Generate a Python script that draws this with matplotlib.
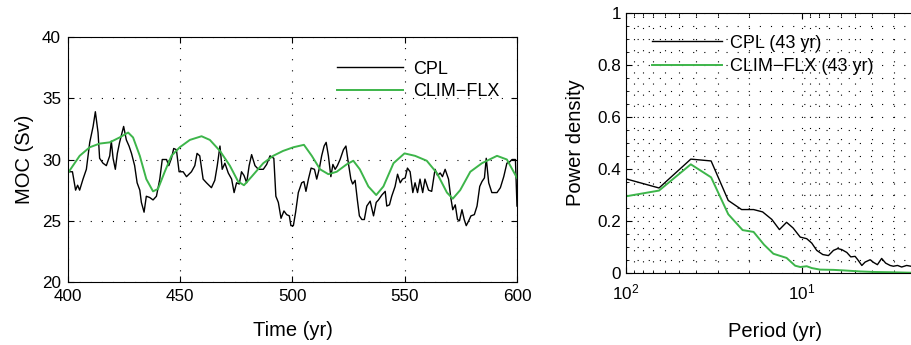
import numpy as np
import matplotlib
matplotlib.use("Agg")
import matplotlib.pyplot as plt
from matplotlib.ticker import LogLocator, MultipleLocator, FixedLocator, FixedFormatter

plt.rcParams['font.family'] = ['Liberation Sans', 'DejaVu Sans']
plt.rcParams['mathtext.fontset'] = 'custom'
plt.rcParams['mathtext.rm'] = 'Liberation Sans'

# --- time series (left panel) ---
cpl_years = [400, 402, 403.4, 404.3, 405.2, 406.7, 408.2, 409.7, 411.2, 412.2, 413.4, 414.1, 415.6, 417.1,
             418.6, 419.3, 420.1, 421.1, 422, 423, 424.8, 426, 427.2, 428.3, 429.7, 430.8, 432, 432.7,
             433.9, 434.9, 436.4, 437.9, 439.4, 440.9, 442, 443.9, 444.9, 446.1, 447.1, 448.3, 449.5,
             451.3, 452.8, 455, 456.5, 457.5, 458.7, 460.2, 461.7, 463.9, 465.4, 466.5, 467.7, 468.7,
             469.9, 471.4, 472.9, 474, 475.1, 476.3, 477.3, 478.4, 479.6, 480.7, 481.8, 483.3, 484.8,
             487, 488.5, 490, 491.7, 492.6, 493.7, 494.9, 496.2, 497.4, 498.6, 499.3, 500.4, 501.4,
             502.6, 504.1, 505.1, 506, 507.1, 508.3, 509.8, 510.8, 512, 513, 514.1, 515, 516, 517.1,
             518, 519, 520, 521.2, 522.7, 523.8, 524.9, 526, 526.8, 527.9, 528.9, 529.8, 530.9, 532,
             533.1, 534.6, 536.1, 537.3, 538.3, 539.8, 541.3, 542, 543.2, 544.2, 545.7, 546.8, 548,
             549, 550.2, 551.2, 552.4, 553.6, 554.6, 555.7, 556.8, 558, 559, 560.6, 562, 563.5, 564.6,
             565.8, 566.8, 568, 569.5, 570.5, 571.4, 572.5, 573.5, 574.4, 575.5, 576.5, 577.4, 578.5,
             579.5, 581, 582.2, 583.4, 584.4, 585.5, 586.3, 587.4, 588.8, 591.1, 592.6, 594.1, 595.5,
             596.7, 597.8, 599.3, 600]
cpl_moc = [29.0, 29.0, 27.5, 27.9, 27.5, 28.4, 29.2, 31.4, 32.7, 33.9, 32.2, 30.1, 29.7, 29.5,
           30.3, 31.5, 30.1, 29.2, 30.5, 31.4, 32.7, 31.6, 31.1, 30.5, 29.5, 28.1, 27.5, 26.5,
           25.7, 27.0, 26.9, 26.7, 27.0, 28.4, 30.0, 30.0, 29.5, 30.1, 30.9, 30.8, 29.0,
           29.0, 28.6, 29.0, 29.5, 30.5, 30.3, 28.4, 28.1, 27.7, 28.3, 29.5, 31.1, 29.2,
           29.7, 28.9, 28.4, 27.3, 28.1, 28.0, 29.0, 28.7, 28.1, 29.5, 30.4, 29.5, 29.2,
           29.2, 29.6, 30.3, 30.1, 27.0, 26.5, 25.2, 25.8, 25.5, 25.4, 24.6, 24.6, 25.7,
           27.3, 28.1, 28.2, 27.4, 28.4, 29.3, 29.2, 28.4, 29.3, 30.3, 31.1, 31.4, 30.3, 28.6,
           29.6, 29.2, 29.5, 30.0, 30.8, 31.1, 29.7, 28.4, 28.0, 28.3, 26.7, 25.4, 25.1, 25.1,
           26.2, 26.6, 25.4, 26.5, 26.7, 27.1, 27.4, 26.2, 26.3, 27.0, 27.8, 28.8, 28.1,
           28.4, 28.5, 29.3, 29.0, 27.3, 28.1, 27.3, 28.4, 27.3, 28.4, 27.5, 27.4, 29.2, 28.7,
           28.9, 28.6, 29.2, 28.4, 26.9, 25.9, 26.3, 25.1, 25.0, 25.9, 25.1, 24.6, 25.0,
           25.4, 25.5, 26.2, 27.8, 28.2, 28.5, 30.1, 28.1, 27.3, 27.3, 27.7, 28.6, 29.7,
           29.8, 30.0, 30.0, 26.2]

flx_years = [400, 405.2, 409.7, 414.1, 418.6, 423, 426.8, 429, 432, 434.9, 437.9, 440.1, 443.1,
             446.1, 449.8, 454.3, 459.5, 463.2, 467.7, 472.1, 475.8, 478.4, 481.8, 487, 491.4,
             495.8, 500.4, 505.1, 508.6, 512.3, 516, 519.7, 524.1, 527.1, 530, 533.8, 537.3,
             540.5, 545, 549.9, 554.6, 559.8, 564.3, 568.8, 571.4, 574.7, 579.2, 584.4, 591.1,
             595.5, 600]
flx_moc = [28.9, 30.3, 31.0, 31.3, 31.4, 31.8, 32.2, 31.8, 30.3, 28.4, 27.4, 27.6, 29.0,
           30.3, 31.0, 31.6, 31.9, 31.6, 30.7, 29.5, 28.2, 27.9, 28.6, 29.7, 30.3,
           30.7, 31.0, 31.2, 30.3, 29.2, 28.8, 29.0, 29.6, 29.9, 29.2, 27.8, 27.1,
           27.8, 29.7, 30.5, 30.3, 29.9, 28.9, 27.3, 26.8, 27.5, 29.0, 29.7, 30.3,
           30.0, 28.5]

# --- spectra (right panel) ---
cpl_period = [100, 64.9, 42.8, 32.8, 26.2, 22.0, 18.8, 16.7, 14.8, 13.4, 12.2, 11.2, 10.2, 9.37,
              8.77, 8.22, 7.59, 7.05, 6.60, 6.24, 5.92, 5.54, 5.26, 4.97, 4.80, 4.55, 4.36, 4.08,
              3.91, 3.71, 3.51, 3.33, 3.14, 3.01, 2.85, 2.70, 2.53, 2.39]
cpl_power = [0.362, 0.327, 0.438, 0.431, 0.279, 0.244, 0.244, 0.235, 0.206, 0.167, 0.195, 0.173,
             0.138, 0.132, 0.115, 0.087, 0.071, 0.067, 0.087, 0.094, 0.090, 0.079, 0.062, 0.064,
             0.051, 0.029, 0.042, 0.051, 0.041, 0.032, 0.056, 0.038, 0.029, 0.026, 0.029, 0.023,
             0.029, 0.026]
flx_period = [100, 64.9, 42.8, 32.8, 26.2, 21.7, 18.8, 16.4, 14.5, 12.2, 10.9, 10.2, 9.37, 8.77,
              7.87, 6.60, 5.79, 4.66, 3.91, 3.14, 2.39]
flx_power = [0.295, 0.317, 0.418, 0.368, 0.226, 0.165, 0.158, 0.109, 0.074, 0.058, 0.028, 0.023,
             0.026, 0.019, 0.013, 0.012, 0.010, 0.006, 0.004, 0.003, 0.001]

green = '#3db54a'
dots = (0, (1, 9))

fig = plt.figure(figsize=(9.11, 3.45), dpi=100)

# left panel
ax1 = fig.add_axes([0.0746, 0.1826, 0.4929, 0.7101])
ax1.plot(cpl_years, cpl_moc, color='black', lw=1.0, label='CPL')
ax1.plot(flx_years, flx_moc, color=green, lw=1.4, label='CLIM\u2212FLX')
ax1.set_xlim(400, 600)
ax1.set_ylim(20, 40)
ax1.set_xticks([400, 450, 500, 550, 600])
ax1.set_yticks([20, 25, 30, 35, 40])
ax1.grid(True, color='black', linestyle=dots, lw=0.8)
ax1.set_xlabel('Time (yr)', fontsize=14.5, labelpad=12)
ax1.set_ylabel('MOC (Sv)', fontsize=14.5, labelpad=6)
ax1.tick_params(direction='in', labelsize=12.3, length=4, top=True, right=True, pad=5)
ax1.legend(loc='upper left', bbox_to_anchor=(0.599, 0.903), frameon=False, borderpad=0,
           handlelength=3.65, handletextpad=0.55, labelspacing=0.3, fontsize=13,
           borderaxespad=0)

# right panel
ax2 = fig.add_axes([0.6872, 0.2087, 0.3277, 0.7536])
ax2.plot(cpl_period, cpl_power, color='black', lw=1.0, label='CPL (43 yr)')
ax2.plot(flx_period, flx_power, color=green, lw=1.4, label='CLIM\u2212FLX (43 yr)')
ax2.set_xscale('log')
ax2.set_xlim(100, 2)
ax2.set_ylim(0, 1)
ax2.xaxis.set_major_locator(FixedLocator([100, 10]))
ax2.xaxis.set_minor_locator(LogLocator(base=10, subs=np.arange(2, 10)))
ax2.yaxis.set_major_locator(FixedLocator([0, 0.2, 0.4, 0.6, 0.8, 1.0]))
ax2.yaxis.set_major_formatter(FixedFormatter(['0', '0.2', '0.4', '0.6', '0.8', '1']))
ax2.yaxis.set_minor_locator(MultipleLocator(0.05))
ax2.grid(True, which='both', color='black', linestyle=dots, lw=0.8)
ax2.set_xlabel('Period (yr)', fontsize=14.5, labelpad=14)
ax2.set_ylabel('Power density', fontsize=14.5, labelpad=9)
ax2.tick_params(which='both', direction='in', labelsize=12.3, top=True, right=True)
ax2.tick_params(which='major', length=4)
ax2.tick_params(which='minor', length=2)
ax2.tick_params(axis='x', pad=7)
ax2.legend(loc='upper left', bbox_to_anchor=(0.087, 0.917), frameon=False, borderpad=0,
           handlelength=3.9, handletextpad=0.4, labelspacing=0.36, fontsize=13,
           borderaxespad=0)

fig.savefig('out.png', dpi=100)
